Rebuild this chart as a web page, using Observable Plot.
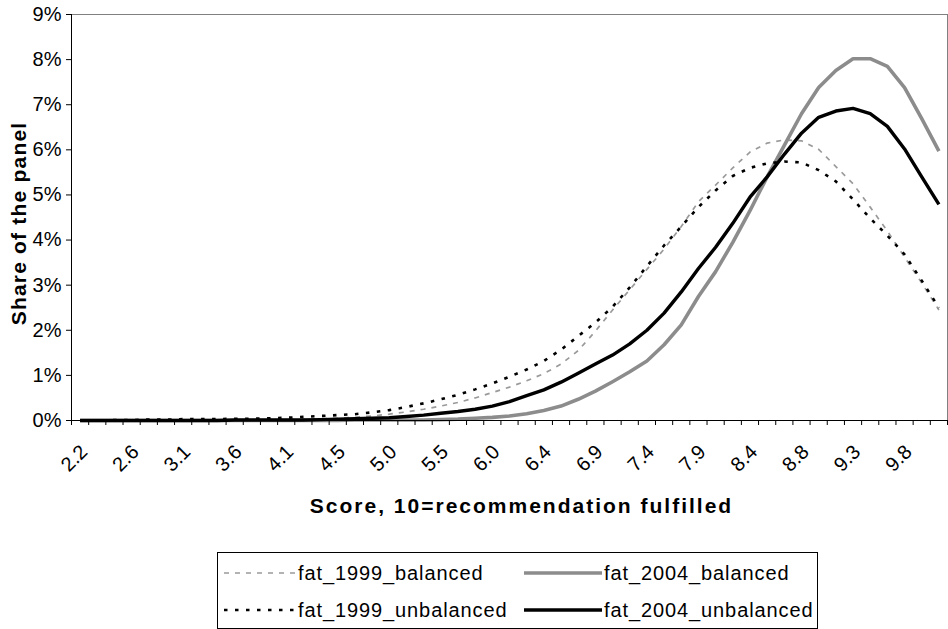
<!DOCTYPE html>
<html><head><meta charset="utf-8">
<script src="https://cdn.jsdelivr.net/npm/d3@7"></script>
<script src="https://cdn.jsdelivr.net/npm/@observablehq/plot@0.6"></script>
<style>
body{margin:0;background:#fff;font-family:"Liberation Sans",Arial,sans-serif;}
#chart{position:relative;width:948px;height:629px;overflow:hidden;}
#chart svg{display:block;}
#legend{position:absolute;left:217px;top:552px;width:601px;height:77px;border:1px solid #000;box-sizing:border-box;background:#fff;}
.item{position:absolute;height:24px;font-size:20px;letter-spacing:0.9px;color:#000;line-height:24px;white-space:nowrap;}
.item svg{position:absolute;top:0;}
.item span{position:absolute;top:0;}
</style></head><body><div id="chart"></div>
<script>
// category tick labels (every third score category is labelled)
const xTickLabels = ["2.2","2.6","3.1","3.6","4.1","4.5","5.0","5.5","6.0","6.4","6.9","7.4","7.9","8.4","8.8","9.3","9.8"];
const labelEvery = 3;
const yTicks = [0,1,2,3,4,5,6,7,8,9];
const xTitle = "Score, 10=recommendation fulfilled";
const yTitle = "Share of the panel";

// share of the panel, in percent, one value per score category
const fat_1999_balanced = [0.00,0.00,0.00,0.00,0.00,0.01,0.01,0.01,0.01,0.01,0.02,0.02,0.02,0.03,0.04,0.05,0.07,0.10,0.14,0.19,0.25,0.32,0.40,0.50,0.62,0.74,0.88,1.04,1.25,1.55,1.98,2.45,2.90,3.35,3.80,4.30,4.85,5.22,5.60,5.95,6.15,6.22,6.20,6.01,5.63,5.25,4.73,4.20,3.62,3.05,2.45];
const fat_2004_balanced = [0.00,0.00,0.00,0.00,0.00,0.00,0.00,0.00,0.00,0.00,0.00,0.00,0.00,0.00,0.00,0.00,0.01,0.01,0.01,0.01,0.01,0.02,0.03,0.05,0.07,0.10,0.15,0.22,0.32,0.47,0.65,0.86,1.08,1.32,1.68,2.12,2.75,3.30,3.95,4.65,5.40,6.10,6.80,7.38,7.76,8.02,8.02,7.85,7.38,6.69,5.97];
const fat_1999_unbalanced = [0.00,0.00,0.01,0.01,0.02,0.02,0.03,0.03,0.03,0.04,0.04,0.05,0.06,0.08,0.10,0.12,0.14,0.18,0.23,0.30,0.38,0.47,0.57,0.69,0.82,0.97,1.13,1.32,1.57,1.87,2.17,2.52,2.95,3.42,3.88,4.30,4.73,5.10,5.42,5.60,5.70,5.74,5.72,5.55,5.30,4.90,4.48,4.10,3.68,3.10,2.50];
const fat_2004_unbalanced = [0.00,0.00,0.00,0.00,0.00,0.00,0.00,0.00,0.00,0.01,0.01,0.01,0.01,0.01,0.02,0.03,0.04,0.05,0.06,0.09,0.12,0.16,0.20,0.25,0.32,0.42,0.55,0.68,0.85,1.05,1.25,1.45,1.70,2.00,2.38,2.85,3.37,3.84,4.37,4.95,5.40,5.90,6.37,6.72,6.86,6.92,6.80,6.52,6.02,5.40,4.79];

const seriesNames = ["fat_1999_balanced","fat_2004_balanced","fat_1999_unbalanced","fat_2004_unbalanced"];
const seriesValues = [fat_1999_balanced, fat_2004_balanced, fat_1999_unbalanced, fat_2004_unbalanced];
const styles = {
  fat_1999_balanced:   {stroke:"#9a9a9a", strokeWidth:1.7, strokeDasharray:"5,6"},
  fat_2004_balanced:   {stroke:"#8c8c8c", strokeWidth:3.6, strokeDasharray:null},
  fat_1999_unbalanced: {stroke:"#000000", strokeWidth:2.6, strokeDasharray:"3.5,7.5"},
  fat_2004_unbalanced: {stroke:"#000000", strokeWidth:3.4, strokeDasharray:null}
};

const n = fat_1999_balanced.length;
const labelTicks = xTickLabels.map((_, k) => k * labelEvery);
const boundaryTicks = d3.range(-0.5, n, 1);

const lineMarks = seriesNames.map((name, s) =>
  Plot.line(seriesValues[s].map((v, i) => ({i, v})), {
    x: "i", y: "v",
    stroke: styles[name].stroke,
    strokeWidth: styles[name].strokeWidth,
    strokeDasharray: styles[name].strokeDasharray,
    strokeLinejoin: "round",
    strokeLinecap: "butt"
  })
);

const chart = Plot.plot({
  width: 948, height: 530,
  marginLeft: 71, marginRight: 1, marginTop: 14, marginBottom: 110,
  style: {fontFamily: '"Liberation Sans", Arial, sans-serif', fontSize: "20px", color: "#000", background: "#fff", overflow: "visible"},
  x: {domain: [-0.5, n - 0.5]},
  y: {domain: [0, 9]},
  marks: [
    Plot.frame({stroke: "#808080", strokeWidth: 1}),
    ...lineMarks,
    Plot.axisY({ticks: yTicks, tickFormat: d => d + "%", tickSize: 5, tickPadding: 5, label: null, stroke: "#000", fontSize: 20}),
    Plot.axisX({ticks: boundaryTicks, tickSize: 5, tickFormat: () => "", label: null, stroke: "#000"}),
    Plot.axisX({ticks: labelTicks, tickFormat: i => xTickLabels[i / labelEvery], tickRotate: -45, tickSize: 0, tickPadding: 28, label: null, fontSize: 20, dx: 4}),
    Plot.ruleX([-0.5], {stroke: "#000", strokeWidth: 1}),
    Plot.ruleY([0], {stroke: "#000", strokeWidth: 1}),
    Plot.text([xTitle], {frameAnchor: "bottom", dy: 92, dx: 12, fontWeight: "bold", fontSize: 21}),
    Plot.text([yTitle], {frameAnchor: "left", textAnchor: "middle", rotate: -90, dx: -52, dy: 6, fontWeight: "bold", fontSize: 21})
  ]
});
chart.querySelectorAll("text").forEach(t => {
  if (t.textContent === xTitle) t.style.letterSpacing = "2px";
  if (t.textContent === yTitle) t.style.letterSpacing = "1.2px";
});
document.getElementById("chart").appendChild(chart);

// legend (Excel-style box, two columns)
const legend = document.createElement("div");
legend.id = "legend";
const legendPos = {
  fat_1999_balanced:   {left: 6,   top: 8},
  fat_2004_balanced:   {left: 306, top: 8},
  fat_1999_unbalanced: {left: 6,   top: 45},
  fat_2004_unbalanced: {left: 306, top: 45}
};
seriesNames.forEach(name => {
  const st = styles[name];
  const p = legendPos[name];
  const item = document.createElement("div");
  item.className = "item";
  item.style.left = p.left + "px";
  item.style.top = p.top + "px";
  const sampleW = name.includes("2004") ? 78 : 72;
  item.innerHTML =
    `<svg width="${sampleW}" height="24"><line x1="0" x2="${sampleW}" y1="12" y2="12" stroke="${st.stroke}" stroke-width="${st.strokeWidth}" ${st.strokeDasharray ? `stroke-dasharray="${st.strokeDasharray}"` : ""}/></svg>` +
    `<span style="left:${sampleW + 2}px">${name}</span>`;
  legend.appendChild(item);
});
document.getElementById("chart").appendChild(legend);
</script>
</body></html>
